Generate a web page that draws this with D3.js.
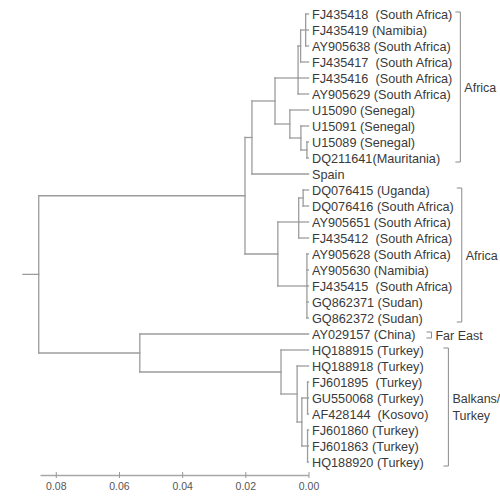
<!DOCTYPE html>
<html>
<head>
<meta charset="utf-8">
<script src="https://cdn.jsdelivr.net/npm/d3@7"></script>
<style>
body { margin: 0; background: #fff; }
.tip { font-family: "Liberation Sans", Arial, sans-serif; font-size: 12.7px; fill: #3a3a3a; white-space: pre; }
.grp { font-family: "Liberation Sans", Arial, sans-serif; font-size: 12.5px; fill: #3a3a3a; }
.axis text { font-family: "Liberation Sans", Arial, sans-serif; font-size: 10.5px; fill: #555; }
</style>
</head>
<body>
<div id="tree"></div>
<script>
// tip labels, top to bottom
var tipLabels = [
  "FJ435418  (South Africa)", "FJ435419 (Namibia)", "AY905638 (South Africa)",
  "FJ435417  (South Africa)", "FJ435416  (South Africa)", "AY905629 (South Africa)",
  "U15090 (Senegal)", "U15091 (Senegal)", "U15089 (Senegal)", "DQ211641(Mauritania)",
  "Spain",
  "DQ076415 (Uganda)", "DQ076416 (South Africa)", "AY905651 (South Africa)",
  "FJ435412  (South Africa)", "AY905628 (South Africa)", "AY905630 (Namibia)",
  "FJ435415  (South Africa)", "GQ862371 (Sudan)", "GQ862372 (Sudan)",
  "AY029157 (China)",
  "HQ188915 (Turkey)", "HQ188918 (Turkey)", "FJ601895  (Turkey)", "GU550068 (Turkey)",
  "AF428144  (Kosovo)", "FJ601860 (Turkey)", "FJ601863 (Turkey)", "HQ188920 (Turkey)"
];

// internal nodes: id, height (distance to tips), children (numbers = tips)
var cladeIds = ["root", "A", "B", "D", "E", "E1", "E2", "F", "G", "H",
                "C", "C1", "C1a", "C2", "FB", "Bk", "Bk1", "Bk2", "Bk2a", "Bk2b"];
var cladeHeights = [0.0854, 0.0201, 0.0179, 0.0106, 0.0033, 0.0025, 0.0009, 0.0059, 0.0024, 0.0005,
                    0.0097, 0.0031, 0.0017, 0.0005, 0.0534, 0.0087, 0.0036, 0.0021, 0.0003, 0.0003];
var cladeChildren = [
  ["A", "FB"], ["B", "C"], ["D", 10], ["E", "F"], ["E1", 4, 5], ["E2", 3], [0, 1, 2],
  [6, "G"], [7, "H"], [8, 9],
  ["C1", "C2"], ["C1a", 13, 14], [11, 12], [15, 16, 17, 18, 19],
  [20, "Bk"], [21, "Bk1"], [22, "Bk2"], ["Bk2a", "Bk2b"], [23, 24, 25], [26, 27, 28]
];
var rootStub = 0.005;

// geographic groups
var groupNames = ["Africa", "Africa", "Far East", "Balkans/|Turkey"];
var groupFirst = [0, 11, 20, 21];
var groupLast = [9, 19, 20, 28];
var bracketGap = [8, 8, 16, 20];

var axisTicks = [0.08, 0.06, 0.04, 0.02, 0.00];

var width = 500, height = 496;

var x = d3.scaleLinear().domain([0.085, 0]).range([40, 308.5]);
var y = d3.scaleLinear().domain([0, tipLabels.length - 1]).range([14, 462]);

var svg = d3.select("#tree").append("svg")
  .attr("width", width)
  .attr("height", height);

// build the hierarchy
function build(c) {
  if (typeof c === "number") return {tip: c, h: 0};
  var i = cladeIds.indexOf(c);
  return {id: c, h: cladeHeights[i], children: cladeChildren[i].map(build)};
}
var root = d3.hierarchy(build("root"));

// y of a node: tip row, or middle of its children
root.eachAfter(function(d) {
  if (!d.children) { d.py = y(d.data.tip); return; }
  var n = d.children.length;
  d.py = (d.children[Math.floor((n - 1) / 2)].py + d.children[Math.ceil((n - 1) / 2)].py) / 2;
});

var lines = svg.append("g")
  .attr("fill", "none")
  .attr("stroke", "#9c9c9c")
  .attr("stroke-width", 1.3)
  .attr("stroke-linecap", "square");

// root stub
lines.append("path")
  .attr("d", "M" + x(root.data.h + rootStub) + "," + root.py + "H" + x(root.data.h));

root.each(function(d) {
  if (!d.children) return;
  var px = x(d.data.h);
  lines.append("path")
    .attr("d", "M" + px + "," + d.children[0].py + "V" + d.children[d.children.length - 1].py);
  d.children.forEach(function(c) {
    lines.append("path")
      .attr("d", "M" + px + "," + c.py + "H" + x(c.data.h));
  });
});

// tip labels
var tips = svg.append("g").selectAll("text")
  .data(tipLabels)
  .enter().append("text")
  .attr("class", "tip")
  .attr("x", x(0) + 3.5)
  .attr("y", function(d, i) { return y(i) + 4.5; })
  .text(function(d) { return d; });

var tipEnds = [];
tips.each(function(d, i) { tipEnds[i] = x(0) + 3.5 + this.getComputedTextLength(); });

// brackets
var brackets = svg.append("g");
groupNames.forEach(function(name, g) {
  var bx = d3.max(tipEnds.slice(groupFirst[g], groupLast[g] + 1)) + bracketGap[g];
  var top = y(groupFirst[g]) - 2, bot = y(groupLast[g]) + 4;
  brackets.append("path")
    .attr("d", "M" + (bx - 5) + "," + top + "H" + bx + "V" + bot + "H" + (bx - 5))
    .attr("fill", "none")
    .attr("stroke", "#8a8a8a")
    .attr("stroke-width", 1);
  var parts = name.split("|");
  var mid = (top + bot) / 2;
  parts.forEach(function(p, k) {
    brackets.append("text")
      .attr("class", "grp")
      .attr("x", bx + 4)
      .attr("y", mid + (k - (parts.length - 1) / 2) * 17 + 4.5)
      .text(p);
  });
});

// scale bar
var xAxis = d3.axisBottom(x)
  .tickValues(axisTicks)
  .tickFormat(d3.format(".2f"))
  .tickSizeInner(3)
  .tickSizeOuter(0);

var ax = svg.append("g")
  .attr("class", "axis")
  .attr("transform", "translate(0,475)")
  .call(xAxis);
ax.select(".domain").attr("stroke", "#a8a8a8").attr("stroke-width", 1.5);
ax.selectAll(".tick line").attr("y1", -3).attr("stroke", "#999");
ax.selectAll(".tick text").attr("y", 7.5);
</script>
</body>
</html>
